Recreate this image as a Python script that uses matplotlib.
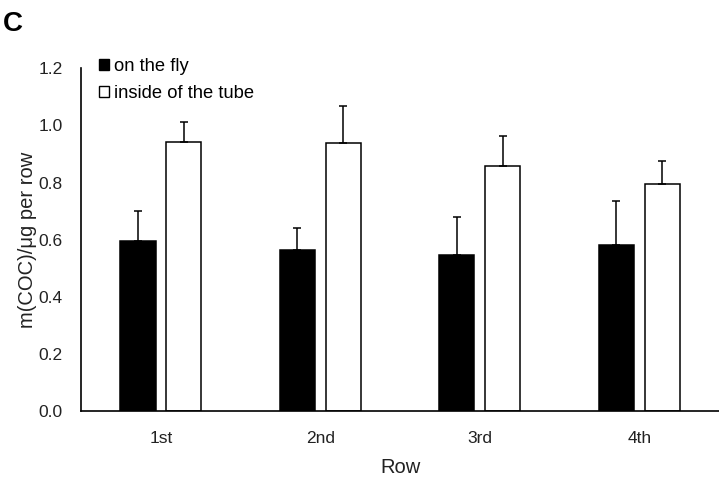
import numpy as np
import matplotlib.pyplot as plt
from matplotlib.patches import Patch

plt.rcParams['font.family'] = ['Liberation Sans', 'DejaVu Sans']

rows = ['1st', '2nd', '3rd', '4th']
on_the_fly = [0.596, 0.564, 0.546, 0.581]
on_the_fly_err = [0.103, 0.077, 0.135, 0.154]
inside_tube = [0.941, 0.938, 0.858, 0.794]
inside_tube_err = [0.070, 0.130, 0.106, 0.082]

fig = plt.figure(figsize=(7.19, 4.84), dpi=100)
ax = fig.add_axes([0.1127, 0.1498, 0.8873, 0.7097])

x = np.arange(len(rows))
w = 0.22
off = 0.143
err_kw = dict(ecolor='black', elinewidth=1.1, capsize=3.2, capthick=1.1)

ax.bar(x - off, on_the_fly, w, color='black', edgecolor='black', linewidth=1.1,
       yerr=[np.zeros(len(rows)), on_the_fly_err], error_kw=err_kw, label='on the fly')
ax.bar(x + off, inside_tube, w, color='white', edgecolor='black', linewidth=1.1,
       yerr=[np.zeros(len(rows)), inside_tube_err], error_kw=err_kw, label='inside of the tube')

ax.set_xlim(-0.5, 3.5)
ax.set_ylim(0, 1.2)
ax.set_yticks(np.arange(0, 1.21, 0.2))
ax.set_yticklabels([f'{v:.1f}' for v in np.arange(0, 1.21, 0.2)])
ax.set_xticks(x)
ax.set_xticklabels(rows)
ax.tick_params(axis='both', length=0, labelsize=12.5, colors='#222222')
ax.tick_params(axis='y', pad=13)
ax.tick_params(axis='x', pad=14)

for s in ['top', 'right']:
    ax.spines[s].set_visible(False)
for s in ['left', 'bottom']:
    ax.spines[s].set_linewidth(1.2)

ax.set_xlabel('Row', fontsize=14.5, labelpad=9, color='#222222')
ax.set_ylabel('m(COC)/μg per row', fontsize=14.5, labelpad=1, color='#222222')

handles = [Patch(facecolor='black', edgecolor='black', linewidth=1.0),
           Patch(facecolor='white', edgecolor='black', linewidth=1.0)]
ax.legend(handles, ['on the fly', 'inside of the tube'], loc='upper left',
          bbox_to_anchor=(0.016, 1.05), frameon=False, fontsize=13.2,
          handlelength=0.55, handleheight=0.55, handletextpad=0.3,
          labelspacing=0.55, borderaxespad=0)

fig.text(0.004, 0.978, 'C', fontsize=20, fontweight='bold', va='top', ha='left')

fig.savefig('out.png', dpi=100)
